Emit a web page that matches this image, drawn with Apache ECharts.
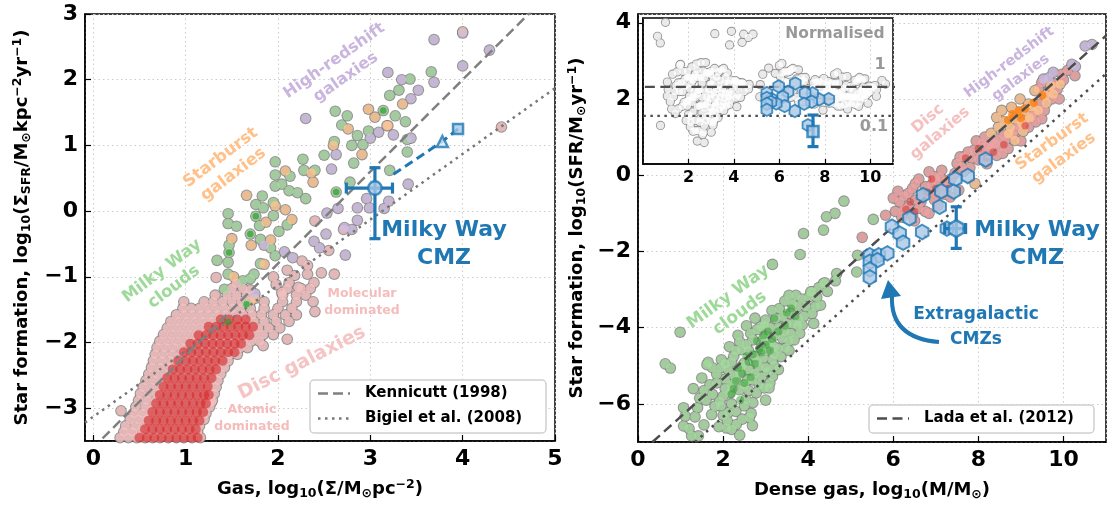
<!DOCTYPE html>
<html>
<head>
<meta charset="utf-8">
<script src="https://cdn.jsdelivr.net/npm/echarts@6/dist/echarts.min.js"></script>
<style>
  html, body { margin: 0; padding: 0; background: #fff; }
  #chart { width: 1108px; height: 506px; }
</style>
</head>
<body>
<div id="chart"></div>
<script>
// ---------- left panel: surface densities (Kennicutt-Schmidt) ----------
// disc galaxies, read row by row off the dense cloud: [y, [x values]]
const leftDiscRows = [
  [-3.45, [0.29, 0.38, 0.47, 0.56, 0.64, 0.72, 0.81, 0.9, 0.98, 1.07, 1.16]],
  [-3.36, [0.33, 0.42, 0.51, 0.6, 0.69, 0.78, 0.86, 0.95, 1.04, 1.13]],
  [-3.27, [0.35, 0.45, 0.54, 0.63, 0.71, 0.8, 0.89, 0.97, 1.06, 1.15]],
  [-3.17, [0.4, 0.49, 0.58, 0.67, 0.76, 0.85, 0.93, 1.02, 1.11, 1.2]],
  [-3.08, [0.44, 0.53, 0.62, 0.7, 0.79, 0.88, 0.96, 1.05, 1.14, 1.22]],
  [-2.98, [0.46, 0.56, 0.65, 0.74, 0.83, 0.91, 1.0, 1.09, 1.18, 1.26]],
  [-2.88, [0.49, 0.58, 0.67, 0.76, 0.85, 0.94, 1.03, 1.12, 1.21, 1.29]],
  [-2.78, [0.51, 0.6, 0.69, 0.78, 0.87, 0.96, 1.05, 1.14, 1.23, 1.31]],
  [-2.68, [0.54, 0.63, 0.72, 0.81, 0.9, 0.99, 1.08, 1.17, 1.25, 1.33]],
  [-2.58, [0.57, 0.66, 0.75, 0.84, 0.93, 1.02, 1.11, 1.2, 1.28, 1.35]],
  [-2.48, [0.6, 0.69, 0.78, 0.87, 0.96, 1.05, 1.14, 1.22, 1.3, 1.38]],
  [-2.38, [0.63, 0.72, 0.81, 0.9, 0.99, 1.08, 1.17, 1.26, 1.34, 1.42]],
  [-2.28, [0.65, 0.74, 0.83, 0.92, 1.01, 1.1, 1.19, 1.28, 1.37, 1.46]],
  [-2.18, [0.67, 0.76, 0.85, 0.94, 1.03, 1.12, 1.21, 1.3, 1.39, 1.48, 1.56]],
  [-2.08, [0.69, 0.78, 0.87, 0.96, 1.05, 1.14, 1.23, 1.32, 1.41, 1.5, 1.59, 1.67]],
  [-1.98, [0.72, 0.81, 0.9, 0.99, 1.08, 1.17, 1.26, 1.35, 1.44, 1.53, 1.62, 1.71, 1.8]],
  [-1.88, [0.76, 0.85, 0.94, 1.03, 1.12, 1.21, 1.3, 1.39, 1.48, 1.57, 1.66, 1.75, 1.84, 1.95]],
  [-1.78, [0.8, 0.89, 0.98, 1.07, 1.16, 1.25, 1.34, 1.43, 1.52, 1.61, 1.7, 1.79, 1.9, 2.02]],
  [-1.68, [0.84, 0.93, 1.02, 1.11, 1.2, 1.29, 1.38, 1.47, 1.56, 1.65, 1.74, 1.85, 1.98, 2.12]],
  [-1.58, [0.9, 0.99, 1.08, 1.17, 1.26, 1.35, 1.44, 1.53, 1.62, 1.72, 1.82, 1.95, 2.08, 2.2]],
  [-1.48, [0.97, 1.06, 1.15, 1.24, 1.33, 1.42, 1.51, 1.6, 1.7, 1.85, 2.0, 2.15]],
  [-1.38, [0.98, 1.2, 1.3, 1.4, 1.5, 1.6, 1.7, 1.85, 2.05, 2.2, 2.38]],
  [-1.28, [1.32, 1.45, 1.55, 1.66, 2.05, 2.2, 2.3]],
  [-1.18, [1.5, 1.62, 2.1, 2.25, 2.35]]
];
const leftDiscScatter = [
  [4.42, 1.28], [3.18, 1.3], [2.61, -0.96], [2.4, -1.53], [2.1, -1.95], [1.84, -2.05],
  [1.33, -1.01], [0.3, -3.04], [1.28, -2.91], [2.26, -0.76], [2.32, -0.96], [2.39, -1.09],
  [2.22, -1.16], [2.12, -1.09], [2.04, -1.24], [2.47, -0.94], [2.32, -0.83], [2.71, -0.28],
  [2.4, -0.15], [2.55, -0.6], [2.1, -0.9], [1.95, -1.0], [1.7, -1.2], [1.55, -1.1],
  [1.98, -1.12], [2.18, -0.98]
];
const leftDiscCoreRows = [
  [-3.45, [0.5, 0.58, 0.66, 0.74, 0.82, 0.9, 0.98, 1.06, 1.13]],
  [-3.32, [0.56, 0.64, 0.72, 0.8, 0.88, 0.96, 1.04, 1.11]],
  [-3.19, [0.6, 0.68, 0.76, 0.84, 0.92, 1.0, 1.08, 1.15]],
  [-3.06, [0.64, 0.72, 0.8, 0.88, 0.96, 1.04, 1.12, 1.19]],
  [-2.93, [0.68, 0.76, 0.84, 0.92, 1.0, 1.08, 1.16, 1.22]],
  [-2.8, [0.72, 0.8, 0.88, 0.96, 1.04, 1.12, 1.2, 1.25]],
  [-2.67, [0.76, 0.84, 0.92, 1.0, 1.08, 1.16, 1.24]],
  [-2.54, [0.8, 0.88, 0.96, 1.04, 1.12, 1.2, 1.28]],
  [-2.41, [0.86, 0.94, 1.02, 1.1, 1.18, 1.26, 1.33]],
  [-2.28, [0.92, 1.0, 1.08, 1.16, 1.24, 1.32, 1.4]],
  [-2.15, [0.98, 1.06, 1.14, 1.22, 1.3, 1.38, 1.46, 1.53]],
  [-2.02, [1.05, 1.13, 1.21, 1.29, 1.37, 1.45, 1.53, 1.6]],
  [-1.89, [1.14, 1.22, 1.3, 1.38, 1.46, 1.54, 1.62, 1.69]],
  [-1.76, [1.25, 1.33, 1.41, 1.49, 1.57, 1.65, 1.73]],
  [-1.65, [1.38, 1.47, 1.56, 1.65]]
];
const leftClouds = [
  [3.66, 2.12], [3.43, 2.01], [3.31, 1.84], [3.21, 1.76], [3.14, 1.53], [3.27, 1.45], [3.38, 1.36],
  [2.62, 1.52], [2.75, 1.45], [2.69, 1.31], [2.98, 1.22], [2.86, 1.15], [3.4, 1.09], [3.4, 0.9],
  [2.61, 1.06], [2.8, 1.0], [2.92, 1.01], [2.5, 0.85], [2.82, 0.73], [3.21, 0.62], [2.27, 0.79],
  [2.28, 0.62], [2.4, 0.62], [1.97, 0.75], [1.97, 0.55], [2.13, 0.53], [2.04, 0.41], [1.97, 0.38],
  [2.12, 0.31], [2.21, 0.28], [2.3, 0.19], [2.63, 0.29], [2.78, 0.44], [1.83, 0.23], [1.76, 0.1],
  [1.95, 0.13], [1.84, 0.05], [1.95, -0.07], [1.76, -0.08], [1.8, -0.22], [1.46, -0.04],
  [1.46, -0.19], [1.55, -0.23], [2.1, -0.21], [2.01, -0.31], [1.7, -0.35], [1.81, -0.43],
  [1.47, -0.52], [1.47, -0.63], [1.92, -0.56], [1.97, -0.68], [1.34, -0.75], [1.46, -0.78],
  [1.81, -0.8], [1.46, -0.96], [1.62, -1.06], [1.74, -0.96], [1.7, -1.03], [1.42, -1.19],
  [1.66, -1.42], [1.46, -1.69]
];
const leftCloudsCore = [
  [2.63, 0.29], [1.76, -0.08], [1.66, -1.42], [1.46, -1.69], [3.14, 1.53], [1.47, -0.63], [1.7, -0.35]
];
const leftStarburst = [
  [4.0, 2.73], [2.98, 1.55], [3.05, 1.43], [3.35, 1.63], [2.76, 1.25], [3.19, 1.3], [2.91, 0.86],
  [2.6, 1.0], [2.08, 0.61], [2.36, 0.58], [2.38, 0.44], [1.66, 0.24], [2.08, 0.02], [2.15, -0.13],
  [1.97, 0.08], [1.87, -0.17], [1.5, -0.42], [1.71, -0.52], [1.92, -0.44], [1.52, -1.0],
  [1.85, -0.81], [1.75, -1.33]
];
const leftHighZ = [
  [3.69, 2.61], [4.0, 2.21], [4.29, 2.45], [4.0, 2.71], [3.19, 2.11], [3.34, 2.0], [3.52, 1.84],
  [3.69, 1.96], [3.44, 1.71], [3.25, 1.16], [3.09, 1.2], [3.44, 1.11], [3.0, 1.11], [2.3, 1.41],
  [2.63, 0.86], [2.58, 0.64], [3.41, 0.41], [2.96, 0.19], [3.2, 0.15], [2.86, 0.05], [2.99, 0.05],
  [3.15, 0.04], [2.65, 0.04], [2.53, -0.03], [2.72, -0.25], [2.86, -0.14], [2.8, -0.28],
  [2.52, -0.35], [2.39, -0.46], [2.45, -0.56], [2.73, -0.67], [2.07, -0.62], [2.16, -0.71],
  [1.85, -0.52], [1.75, -1.26]
];
// Milky Way CMZ (left): point, x range, y range, then the dashed track
const cmzLeftPoint = [3.05, 0.35];
const cmzLeftXErr = [2.74, 3.24];
const cmzLeftYErr = [-0.42, 0.66];
const cmzLeftTrack = [[3.25, 0.56], [3.78, 1.06], [3.95, 1.25]];
const cmzLeftTriangle = [[3.78, 1.06]];
const cmzLeftSquare = [[3.95, 1.25]];
const kennicuttLine = [[0.1, -3.46], [4.75, 3.05]];
const bigielLine = [[-0.09, -3.22], [5.0, 1.87]];

// ---------- right panel: dense gas mass ----------
const rightClouds = [
  [0.99, -4.12], [0.64, -4.95], [0.76, -5.06], [0.77, -7.9], [1.07, -6.1], [1.11, -6.32],
  [1.34, -6.34], [1.07, -6.58], [1.2, -6.65], [1.42, -6.84], [1.26, -6.84], [1.5, -5.32],
  [1.65, -4.91], [1.62, -4.97], [1.85, -5.22], [1.69, -5.5], [1.73, -6.28], [2.08, -6.63],
  [2.31, -6.54], [2.39, -6.82], [2.12, -6.23], [2.2, -6.67], [2.62, -6.36], [2.69, -6.57],
  [1.96, -4.84], [2.12, -5.1], [2.0, -5.8], [2.19, -5.5], [2.39, -4.37], [2.43, -4.58],
  [2.7, -4.32], [2.89, -3.97], [2.97, -3.93], [3.01, -4.23], [3.24, -3.76], [3.32, -3.5],
  [3.4, -3.71], [3.59, -3.63], [3.63, -3.37], [3.71, -3.15], [3.78, -3.76], [3.86, -3.93],
  [3.59, -4.15], [3.67, -4.32], [3.47, -4.54], [3.36, -4.76], [3.16, -4.84], [3.05, -5.15],
  [3.16, -5.28], [2.97, -5.58], [3.08, -5.58], [2.7, -5.97], [2.66, -6.25], [2.78, -5.71],
  [2.54, -5.89], [2.39, -5.63], [2.58, -5.37], [2.5, -4.93], [2.74, -4.76], [2.89, -4.54],
  [3.12, -4.41], [3.24, -4.19], [3.4, -4.28], [2.85, -5.02], [2.7, -5.37], [2.39, -5.19],
  [2.16, -5.71], [1.92, -5.93], [1.81, -6.06], [4.02, -3.19], [4.09, -3.06], [4.17, -3.45],
  [4.29, -3.41], [4.09, -3.63], [4.13, -3.89], [4.36, -2.84], [4.64, -2.77], [4.67, -2.58],
  [5.14, -2.54], [4.84, -0.68], [4.63, -1.0], [4.43, -1.09], [4.36, -1.44], [3.89, -1.53],
  [3.81, -2.08], [3.16, -2.34], [5.53, -1.16], [5.16, -2.1], [4.39, -2.82], [4.06, -3.06],
  [2.6, -4.6], [2.8, -4.9], [3.0, -4.6], [3.1, -4.0], [3.3, -4.0], [2.95, -4.3], [2.6, -5.1],
  [2.3, -5.4], [2.45, -5.0], [2.9, -5.3], [3.2, -5.0], [3.5, -3.9], [2.2, -6.0], [2.0, -6.3],
  [1.9, -6.6], [1.55, -6.55], [1.4, -6.1], [1.6, -5.9], [1.3, -5.6], [2.25, -4.75],
  [2.05, -5.35], [3.75, -3.45], [3.55, -4.35], [3.0, -5.9],
  [1.75, -5.05], [1.95, -5.05], [2.05, -4.95], [2.2, -4.9], [2.3, -4.6], [2.55, -4.45],
  [2.65, -4.15], [2.8, -4.05], [3.0, -3.8], [3.15, -3.55], [3.45, -3.3], [3.55, -3.15],
  [3.85, -3.25], [3.95, -3.45], [3.9, -3.7], [3.75, -3.95], [3.8, -4.15], [3.55, -4.6],
  [3.3, -4.55], [3.2, -4.7], [3.3, -5.1], [3.1, -5.45], [2.85, -5.5], [2.6, -5.65],
  [2.5, -6.05], [2.3, -6.2], [2.45, -6.4], [2.1, -6.45], [1.95, -6.05], [1.75, -5.75],
  [1.55, -5.65], [1.45, -5.85], [1.85, -5.45], [2.05, -5.6], [2.25, -5.25], [2.5, -5.5],
  [2.75, -5.2], [3.0, -5.05], [2.95, -4.8], [3.2, -4.5], [3.45, -4.1], [3.65, -3.9],
  [4.2, -3.2], [4.45, -3.05], [4.25, -2.95], [2.15, -4.5], [2.35, -4.2], [2.55, -3.95],
  [2.75, -3.75]
];
const rightCloudsCore = [
  [2.3, -5.4], [2.45, -5.2], [2.6, -4.9], [2.7, -4.7], [2.85, -4.55], [3.0, -4.45], [3.15, -4.3],
  [3.3, -4.1], [2.55, -4.75], [2.8, -4.35], [3.05, -4.1], [3.2, -3.75], [3.5, -3.6], [2.25, -5.6],
  [2.2, -5.75], [2.4, -5.9], [2.9, -4.65], [2.65, -5.3], [3.6, -3.5], [3.7, -3.7], [3.45, -3.95],
  [2.35, -5.05], [2.75, -4.95], [3.1, -4.6], [2.5, -5.45], [2.95, -4.2]
];
const rightDisc = [
  [5.27, -1.63], [5.82, -1.05], [6.11, -0.42], [6.15, -0.7], [6.23, -0.92], [6.35, -0.83],
  [6.52, -0.65], [6.6, -0.87], [6.76, -0.3], [6.84, 0.09], [7.0, -0.13], [7.17, -0.26],
  [6.52, -0.22], [6.35, -0.48], [6.84, -1.0], [6.97, -0.65], [7.34, -0.57], [7.54, -0.39],
  [7.5, 0.31], [7.66, 0.48], [7.9, 0.66], [8.16, 0.75], [8.4, 0.83], [8.0, 0.4], [8.57, 0.57],
  [7.14, 0.13], [6.98, -0.04], [6.9, -0.26], [7.57, 0.48], [7.61, 0.22], [7.76, 0.61],
  [8.08, 0.83], [8.31, 0.87], [8.43, 0.52], [8.51, 0.74], [8.63, 0.91], [8.86, 1.17],
  [9.18, 1.26], [9.49, 1.48], [9.33, 1.65], [9.45, 1.87], [9.73, 2.0], [9.41, 2.26],
  [9.49, 2.43], [9.96, 2.65], [10.27, 2.61], [9.8, 2.4], [6.7, -0.55], [6.45, -1.05],
  [6.2, -1.1], [6.6, -0.1], [7.2, -0.5], [7.35, -0.1], [7.8, 0.2], [8.2, 0.3], [8.7, 0.7],
  [9.0, 0.9], [6.05, -0.95], [6.5, -1.2], [7.05, -0.8], [6.0, -0.6], [6.25, -0.55],
  [6.45, -0.35], [6.65, -0.7], [6.75, -0.95], [6.95, -0.45], [7.1, -0.05], [7.25, -0.15],
  [7.45, 0.05], [7.65, 0.1], [7.85, 0.45], [8.05, 0.55], [8.25, 0.65], [8.45, 0.95],
  [8.6, 1.05], [8.8, 1.05], [8.95, 1.3], [9.1, 1.45], [9.25, 1.55], [9.35, 1.4], [9.55, 1.7],
  [9.65, 2.2], [9.85, 2.25], [10.0, 2.5], [10.1, 2.75], [9.9, 2.0], [8.15, 1.0], [8.3, 0.75],
  [7.95, 0.9]
];
const rightDiscCore = [
  [6.3, -0.9], [6.5, -0.95], [6.8, -0.45], [7.0, -0.35], [6.9, -0.1], [7.7, 0.45], [8.0, 0.7],
  [8.2, 0.45], [6.4, -0.7], [7.3, -0.35], [8.6, 0.8], [9.1, 1.3], [8.35, 0.6]
];
const rightStarburst = [
  [8.55, 1.7], [8.78, 1.78], [8.94, 1.65], [9.1, 1.7], [9.18, 1.87], [9.25, 1.8], [8.86, 1.48],
  [9.02, 1.35], [8.47, 1.26], [8.43, 1.52], [8.71, 1.09], [9.57, 2.09], [9.76, 2.13],
  [9.92, 2.39], [9.7, 2.35], [9.41, 1.7], [8.86, 0.91], [7.92, -0.22], [8.98, 2.0], [9.33, 2.22],
  [8.6, 1.4], [9.2, 1.5], [8.3, 1.1], [9.6, 1.9], [8.75, 1.25], [9.05, 1.15]
];
const rightStarburstCore = [
  [8.8, 1.6], [8.95, 1.7], [9.1, 1.75], [9.5, 2.1], [8.7, 1.45], [9.0, 1.5], [9.3, 1.9]
];
const rightHighZ = [
  [10.51, 3.39], [10.67, 3.43], [10.2, 2.91], [10.28, 2.85], [9.76, 2.7], [9.53, 2.52], [9.65, 2.55]
];
const rightCmzs = [
  [8.17, 0.41], [7.75, -0.02], [7.46, -0.1], [7.13, -0.42], [7.42, -0.43], [6.7, -0.52],
  [7.09, -0.83], [6.38, -1.13], [6.68, -1.49], [5.97, -1.35], [6.15, -1.53], [6.23, -1.77],
  [5.45, -2.1], [5.66, -2.1], [5.86, -2.05], [5.45, -2.27], [5.63, -2.23], [5.45, -2.47],
  [5.45, -2.68], [7.26, -1.4]
];
const cmzRightPoint = [7.48, -1.4];
const cmzRightXErr = [7.21, 7.7];
const cmzRightYErr = [-1.92, -0.83];
const ladaLine = [[0.34, -7.0], [11.0, 3.66]];
const ladaTenthLine = [[1.34, -7.0], [11.0, 2.66]];
const LADA_OFFSET = 7.34; // log10 of 1 / 4.6e-8
const insetUnity = [[-0.6, 0], [11.4, 0]];
const insetTenth = [[-0.6, -1], [11.4, -1]];

// ---------- helpers ----------
const FONT = '"DejaVu Sans", sans-serif';
const BLUE = '#1f77b4';
const BLUE_FILL = '#a9c8e6';
const HEX = 'path://M0,-10L8.66,-5L8.66,5L0,10L-8.66,5L-8.66,-5Z';

function fromRows(rows) {
  return rows.flatMap(r => r[1].map(x => [x, r[0]]));
}
function normalise(pts) {
  return pts.map(p => [p[0], p[1] - p[0] + LADA_OFFSET]);
}
const leftDisc = fromRows(leftDiscRows).concat(leftDiscScatter);
const leftDiscCore = fromRows(leftDiscCoreRows);

function minus(v) { return String(v).replace('-', '\u2212'); }

function scatter(name, data, idx, color, size, z, extra) {
  return Object.assign({
    type: 'scatter', name, data, xAxisIndex: idx, yAxisIndex: idx,
    symbol: 'circle', symbolSize: size, itemStyle: { color }, z,
    silent: true, animation: false, clip: true
  }, extra || {});
}
function line(name, data, idx, color, type, width, z, extra) {
  return Object.assign({
    type: 'line', name, data, xAxisIndex: idx, yAxisIndex: idx, symbol: 'none',
    lineStyle: { color, type, width }, itemStyle: { color }, z, silent: true, animation: false
  }, extra || {});
}
function errorBars(idx, rows, z) {
  return {
    type: 'custom', xAxisIndex: idx, yAxisIndex: idx, z, silent: true, animation: false,
    data: rows, encode: { x: 0, y: 1 },
    renderItem: function (params, api) {
      const x = api.value(0), y = api.value(1);
      const cap = 5.5;
      const segs = [];
      const yl = api.coord([x, api.value(4)]), yh = api.coord([x, api.value(5)]);
      segs.push([yl, yh], [[yl[0] - cap, yl[1]], [yl[0] + cap, yl[1]]], [[yh[0] - cap, yh[1]], [yh[0] + cap, yh[1]]]);
      if (api.value(2) !== api.value(3)) {
        const xl = api.coord([api.value(2), y]), xh = api.coord([api.value(3), y]);
        segs.push([xl, xh], [[xl[0], xl[1] - cap], [xl[0], xl[1] + cap]], [[xh[0], xh[1] - cap], [xh[0], xh[1] + cap]]);
      }
      return {
        type: 'group',
        children: segs.map(s => ({
          type: 'line',
          shape: { x1: s[0][0], y1: s[0][1], x2: s[1][0], y2: s[1][1] },
          style: { stroke: BLUE, lineWidth: 3.2 }
        }))
      };
    }
  };
}

const nameRich = {
  s: { fontSize: 12.5, fontWeight: 'bold', fontFamily: FONT, verticalAlign: 'bottom', lineHeight: 12 },
  p: { fontSize: 12.5, fontWeight: 'bold', fontFamily: FONT, verticalAlign: 'top', lineHeight: 9 }
};
const tickFont = { fontFamily: FONT, fontWeight: 'bold', fontSize: 22, color: '#000', margin: 7 };
function mainAxis(gridIndex, min, max, name, extra) {
  return Object.assign({
    type: 'value', gridIndex, min, max, name, nameLocation: 'middle',
    nameTextStyle: { fontFamily: FONT, fontWeight: 'bold', fontSize: 18, color: '#000', lineHeight: 22, rich: nameRich },
    axisLine: { show: true, onZero: false, lineStyle: { color: '#000', width: 1.5 } },
    axisTick: { show: true, inside: true, length: 6, lineStyle: { color: '#000', width: 1.2 } },
    axisLabel: Object.assign({ showMinLabel: false, formatter: minus }, tickFont),
    splitLine: { show: true, lineStyle: { color: '#cccccc', type: [1.5, 3], width: 1 } }
  }, extra || {});
}

// ---------- series ----------
const OUT = '#7a7a7a';
const leftAll = [].concat(leftDisc, leftClouds, leftStarburst, leftHighZ);
const rightAll = [].concat(rightClouds, rightDisc, rightStarburst, rightHighZ);
const insetAll = normalise(rightAll);
const cmzRightNorm = normalise([cmzRightPoint])[0];

const LS = [11.6, 9.5];  // outline / fill sizes, left panel
const RS = [11.6, 9.5];  // right panel
const IS = [9.2, 7.4];   // inset

const series = [
  // left panel
  scatter('outline L', leftAll, 0, OUT, LS[0], 2),
  scatter('disc L', leftDisc, 0, '#f5c0c0', LS[1], 3),
  scatter('disc core L', leftDiscCore, 0, '#d62728', 10, 4, { itemStyle: { color: '#d62728', opacity: 0.6 } }),
  scatter('clouds L', leftClouds, 0, '#a8d8a2', LS[1], 3),
  scatter('clouds core L', leftCloudsCore, 0, '#2ca02c', 6.5, 4, { itemStyle: { color: '#2ca02c', opacity: 0.7 } }),
  scatter('starburst L', leftStarburst, 0, '#ffc590', LS[1], 3),
  scatter('highz L', leftHighZ, 0, '#d1bee3', LS[1], 3),
  line('Kennicutt (1998)', kennicuttLine, 0, '#808080', [10, 5], 2.5, 5),
  line('Bigiel et al. (2008)', bigielLine, 0, '#777777', [2.5, 4.5], 2.5, 5),
  line('cmz track', cmzLeftTrack, 0, BLUE, [9, 5], 3, 6),
  scatter('cmz tri', cmzLeftTriangle, 0, BLUE_FILL, 11, 7, { symbol: 'triangle', itemStyle: { color: '#ddeaf6', borderColor: BLUE, borderWidth: 2.5 } }),
  scatter('cmz sq', cmzLeftSquare, 0, BLUE_FILL, 10, 7, { symbol: 'rect', itemStyle: { color: BLUE_FILL, borderColor: BLUE, borderWidth: 2.5 } }),
  errorBars(0, [[cmzLeftPoint[0], cmzLeftPoint[1], cmzLeftXErr[0], cmzLeftXErr[1], cmzLeftYErr[0], cmzLeftYErr[1]]], 7),
  scatter('cmz L', [cmzLeftPoint], 0, BLUE_FILL, 13.5, 8, { itemStyle: { color: BLUE_FILL, borderColor: BLUE, borderWidth: 2.5 } }),

  // right panel
  scatter('outline R', rightAll, 1, OUT, RS[0], 2),
  scatter('clouds R', rightClouds, 1, '#a6d8a0', RS[1], 3),
  scatter('clouds core R', rightCloudsCore, 1, '#2ca02c', 8, 4, { itemStyle: { color: '#2ca02c', opacity: 0.5 } }),
  scatter('disc R', rightDisc, 1, '#eea3a3', RS[1], 3),
  scatter('disc core R', rightDiscCore, 1, '#d62728', 7.5, 4, { itemStyle: { color: '#d62728', opacity: 0.5 } }),
  scatter('starburst R', rightStarburst, 1, '#ffc48e', RS[1], 3),
  scatter('starburst core R', rightStarburstCore, 1, '#ff7f0e', 8.5, 4, { itemStyle: { color: '#ff7f0e', opacity: 0.8 } }),
  scatter('highz R', rightHighZ, 1, '#cfbde2', RS[1], 3),
  line('Lada et al. (2012)', ladaLine, 1, '#4d4d4d', [10, 5.5], 2.5, 5),
  line('lada tenth', ladaTenthLine, 1, '#4d4d4d', [2.5, 5], 2.5, 5),
  scatter('cmzs R', rightCmzs, 1, BLUE_FILL, 14.5, 6, { symbol: HEX, symbolKeepAspect: true, itemStyle: { color: BLUE_FILL, borderColor: BLUE, borderWidth: 2 } }),
  errorBars(1, [[cmzRightPoint[0], cmzRightPoint[1], cmzRightXErr[0], cmzRightXErr[1], cmzRightYErr[0], cmzRightYErr[1]]], 7),
  scatter('cmz R', [cmzRightPoint], 1, BLUE_FILL, 17, 8, { symbol: HEX, symbolKeepAspect: true, itemStyle: { color: BLUE_FILL, borderColor: BLUE, borderWidth: 2.5 } }),

  // inset (normalised by the Lada relation)
  scatter('outline I', insetAll, 2, '#7a7a7a', IS[0], 12),
  scatter('white I', insetAll, 2, '#ffffff', IS[1], 13),
  line('unity I', insetUnity, 2, '#4d4d4d', [10, 5.5], 2.2, 14, { clip: false }),
  line('tenth I', insetTenth, 2, '#4d4d4d', [2.5, 4.5], 2.2, 14, { clip: false }),
  scatter('cmzs I', normalise(rightCmzs), 2, BLUE_FILL, 12.5, 15, { symbol: HEX, symbolKeepAspect: true, itemStyle: { color: BLUE_FILL, borderColor: BLUE, borderWidth: 1.8 } }),
  errorBars(2, [[cmzRightNorm[0], cmzRightNorm[1], cmzRightNorm[0], cmzRightNorm[0],
    cmzRightYErr[0] - cmzRightPoint[0] + LADA_OFFSET, cmzRightYErr[1] - cmzRightPoint[0] + LADA_OFFSET]], 16),
  scatter('cmz I', [cmzRightNorm], 2, BLUE_FILL, 11, 17, { symbol: 'rect', itemStyle: { color: BLUE_FILL, borderColor: BLUE, borderWidth: 2.5 } })
];

// ---------- annotations and legends ----------
function label(text, x, y, size, color, angle, lh) {
  return {
    type: 'text', x, y, rotation: (angle || 0) * Math.PI / 180, z: 30, silent: true,
    style: {
      text, fill: color, fontFamily: FONT, fontWeight: 'bold', fontSize: size,
      align: 'center', verticalAlign: 'middle', textAlign: 'center', textVerticalAlign: 'middle',
      lineHeight: lh || size * 1.15
    }
  };
}
function legendBox(x, y, w, h, items) {
  const els = [{
    type: 'rect', z: 30, silent: true,
    shape: { x, y, width: w, height: h, r: 4 },
    style: { fill: '#ffffff', stroke: '#d0d0d0', lineWidth: 1.5 }
  }];
  items.forEach(function (it, i) {
    const cy = y + 13.5 + i * 25;
    els.push({
      type: 'line', z: 31, silent: true,
      shape: { x1: x + 8, y1: cy, x2: x + 40, y2: cy },
      style: { stroke: it.color, lineWidth: 2.5, lineDash: it.dash }
    });
    els.push({
      type: 'text', z: 31, silent: true, x: x + 55, y: cy,
      style: {
        text: it.name, fill: '#000', fontFamily: FONT, fontWeight: 'bold', fontSize: 15,
        align: 'left', verticalAlign: 'middle', textAlign: 'left', textVerticalAlign: 'middle'
      }
    });
  });
  return els;
}
const graphic = [
  label('High-redshift\ngalaxies', 340, 69, 16, '#c9b5dd', 35, 20),
  label('Starburst\ngalaxies', 227, 166, 16.5, '#ffc08a', 37, 21),
  label('Milky Way\nclouds', 168, 279, 16.5, '#9fd99a', 37, 20),
  label('Molecular\ndominated', 362, 302, 12.5, '#f5bcbc', 0, 17),
  label('Disc galaxies', 302, 363, 19, '#f5c4c4', 27),
  label('Atomic\ndominated', 252, 418, 12.5, '#f5bcbc', 0, 17),
  label('Milky Way\nCMZ', 444, 244, 22, BLUE, 0, 28),
  label('High-redshift\ngalaxies', 1015, 70, 14.5, '#c9b5dd', 37, 19),
  label('Disc\ngalaxies', 934, 126, 15.5, '#f5c0c0', 40, 19),
  label('Starburst\ngalaxies', 1058, 150, 16, '#ffc08a', 36, 20),
  label('Milky Way\nclouds', 734, 305, 17, '#9fd99a', 36, 20),
  label('Milky Way\nCMZ', 1037, 244, 22, BLUE, 0, 28),
  label('Extragalactic\nCMZs', 976, 327, 17, BLUE, 0, 25),
  label('Normalised', 835, 34, 15.5, '#999999', 0),
  label('1', 880, 65, 16, '#999999', 0),
  label('0.1', 874, 127, 16, '#999999', 0),
  {
    type: 'bezierCurve', z: 30, silent: true,
    shape: { x1: 939, y1: 342, x2: 892, y2: 296, cpx1: 890, cpy1: 338 },
    style: { stroke: BLUE, lineWidth: 4, fill: null }
  },
  {
    type: 'polygon', z: 30, silent: true,
    shape: { points: [[888, 280], [881, 299], [901, 296]] },
    style: { fill: BLUE }
  }
].concat(
  legendBox(310, 380, 236, 53, [
    { name: 'Kennicutt (1998)', color: '#808080', dash: [10, 5] },
    { name: 'Bigiel et al. (2008)', color: '#777777', dash: [2.5, 4.5] }
  ]),
  legendBox(869, 405, 225, 28, [
    { name: 'Lada et al. (2012)', color: '#4d4d4d', dash: [10, 5.5] }
  ])
);

const option = {
  backgroundColor: '#ffffff',
  animation: false,
  grid: [
    { left: 85, top: 14, width: 470, height: 427, show: true, borderColor: '#000', borderWidth: 1.5 },
    { left: 638, top: 14, width: 468, height: 428, show: true, borderColor: '#000', borderWidth: 1.5 },
    { left: 643, top: 18, width: 250, height: 146, show: true, borderColor: '#000', borderWidth: 1.5, backgroundColor: '#ffffff', z: 10 }
  ],
  xAxis: [
    mainAxis(0, -0.09, 5, 'Gas, log{s|10}(Σ/M{s|⊙}pc{p|\u22122})', { nameGap: 37 }),
    mainAxis(1, 0, 11, 'Dense gas, log{s|10}(M/M{s|⊙})', {
      nameGap: 37, axisLabel: Object.assign({ showMaxLabel: false, formatter: minus }, tickFont)
    }),
    {
      type: 'value', gridIndex: 2, min: 0, max: 11, z: 10,
      axisLine: { show: true, onZero: false, lineStyle: { color: '#000', width: 1.5 } },
      axisTick: { show: true, inside: true, length: 5, lineStyle: { color: '#000', width: 1.2 } },
      axisLabel: { fontFamily: FONT, fontWeight: 'bold', fontSize: 16, color: '#000', margin: 6, showMinLabel: false, showMaxLabel: false },
      splitLine: { show: true, lineStyle: { color: '#cccccc', type: [1.5, 3], width: 1 } }
    }
  ],
  yAxis: [
    mainAxis(0, -3.5, 3, 'Star formation, log{s|10}(Σ{s|SFR}/M{s|⊙}kpc{p|\u22122}yr{p|\u22121})', { nameGap: 52 }),
    mainAxis(1, -7, 4.23, 'Star formation, log{s|10}(SFR/M{s|⊙}yr{p|\u22121})', {
      nameGap: 50, axisLabel: Object.assign({ showMinLabel: false, showMaxLabel: false, formatter: minus }, tickFont)
    }),
    {
      type: 'value', gridIndex: 2, min: -2.66, max: 2.38, z: 10,
      axisLine: { show: true, onZero: false, lineStyle: { color: '#000', width: 1.5 } },
      axisTick: { show: false }, axisLabel: { show: false }, splitLine: { show: false }
    }
  ],
  series,
  graphic
};

const chart = echarts.init(document.getElementById('chart'), null, { renderer: 'canvas' });
chart.setOption(option);
</script>
</body>
</html>
